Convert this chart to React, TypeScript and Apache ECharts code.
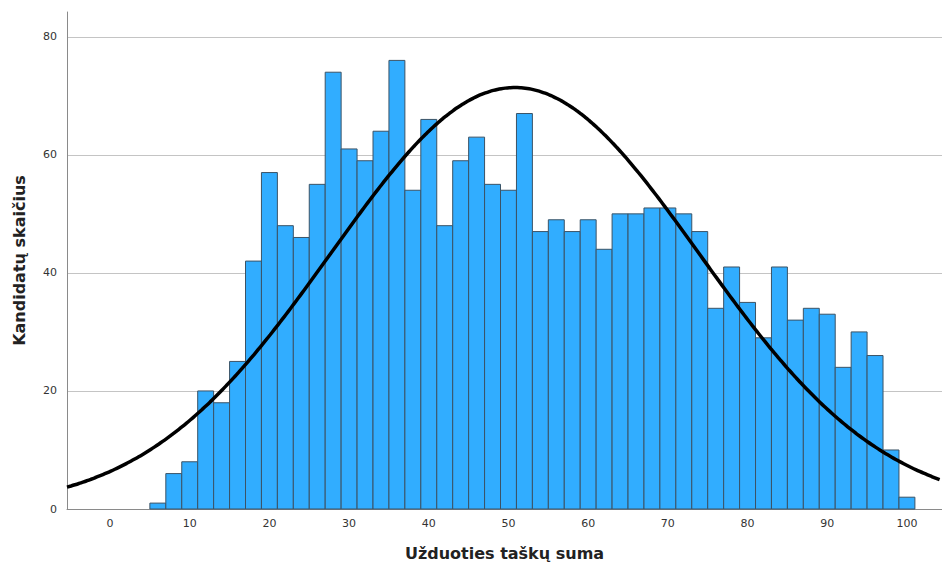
import React, { useEffect, useRef } from "react";
import * as echarts from "echarts";

// Histogram bins (lower edge, upper edge) and counts
const binStarts = [5, 7, 9, 11, 13, 15, 17, 19, 21, 23, 25, 27, 29, 31, 33, 35, 37, 39, 41, 43, 45, 47, 49, 51, 53, 55, 57, 59, 61, 63, 65, 67, 69, 71, 73, 75, 77, 79, 81, 83, 85, 87, 89, 91, 93, 95, 97, 99];
const binWidth = 2;
const counts = [1, 6, 8, 20, 18, 25, 42, 57, 48, 46, 55, 74, 61, 59, 64, 76, 54, 66, 48, 59, 63, 55, 54, 67, 47, 49, 47, 49, 44, 50, 50, 51, 51, 50, 47, 34, 41, 35, 29, 41, 32, 34, 33, 24, 30, 26, 10, 2];

// Normal curve parameters (as overlaid on the histogram)
const curveMean = 50.8;
const curveSd = 23.1;
const curvePeak = 71.4;

const xTicks = [0, 10, 20, 30, 40, 50, 60, 70, 80, 90, 100];
const xMin = -5.4;
const xMax = 104.4;
const yMax = 84.2;

export default function App() {
  const ref = useRef<HTMLDivElement>(null);
  useEffect(() => {
    if (!ref.current) return;
    const chart = echarts.init(ref.current, undefined, { renderer: "svg" });
    const barData = binStarts.map((s, i) => [s, s + binWidth, counts[i]]);
    const curve: number[][] = [];
    for (let x = xMin; x <= xMax + 0.001; x += 0.5) {
      const z = (x - curveMean) / curveSd;
      curve.push([x, curvePeak * Math.exp(-0.5 * z * z)]);
    }
    chart.setOption({
      animation: false,
      backgroundColor: "#ffffff",
      grid: { left: 67, right: 0, top: 12, bottom: 54, containLabel: false },
      xAxis: {
        type: "value",
        min: xMin,
        max: xMax,
        name: "Užduoties taškų suma",
        nameLocation: "middle",
        nameGap: 36,
        nameTextStyle: { fontFamily: "DejaVu Sans", fontWeight: "bold", fontSize: 16, color: "#222" },
        axisLine: { show: true, onZero: false, lineStyle: { color: "#8a8a8a", width: 1 } },
        axisTick: { show: false },
        axisLabel: { customValues: xTicks, fontFamily: "DejaVu Sans", fontSize: 11, color: "#333", margin: 9 },
        splitLine: { show: false },
      },
      yAxis: {
        type: "value",
        min: 0,
        max: yMax,
        interval: 20,
        name: "Kandidatų skaičius",
        nameLocation: "middle",
        nameGap: 40,
        nameTextStyle: { fontFamily: "DejaVu Sans", fontWeight: "bold", fontSize: 16, color: "#222" },
        axisLine: { show: true, onZero: false, lineStyle: { color: "#8a8a8a", width: 1 } },
        axisTick: { show: false },
        axisLabel: { fontFamily: "DejaVu Sans", fontSize: 11, color: "#333", margin: 10, showMaxLabel: false },
        splitLine: { show: true, showMaxLine: false, showMinLine: false, lineStyle: { color: "#c4c4c4", width: 1 } },
      },
      series: [
        {
          type: "custom",
          data: barData,
          encode: { x: [0, 1], y: 2 },
          renderItem: (params: any, api: any) => {
            const p0 = api.coord([api.value(0), api.value(2)]);
            const p1 = api.coord([api.value(1), 0]);
            return {
              type: "rect",
              shape: { x: p0[0], y: p0[1], width: p1[0] - p0[0], height: p1[1] - p0[1] },
              style: { fill: "#31adff", stroke: "#3b5366", lineWidth: 1 },
            };
          },
          z: 2,
        },
        {
          type: "line",
          data: curve,
          smooth: true,
          showSymbol: false,
          lineStyle: { color: "#000000", width: 3.5 },
          z: 3,
        },
      ],
    });
    return () => chart.dispose();
  }, []);
  return (
    <div
      ref={ref}
      style={{ position: "fixed", left: 0, top: 0, width: 942, height: 566, background: "#fff" }}
    />
  );
}
